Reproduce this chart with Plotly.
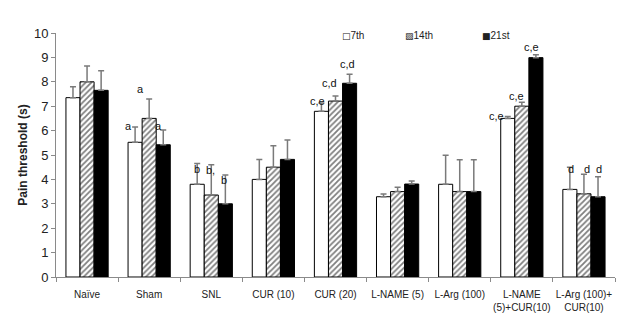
import plotly.graph_objects as go

categories = ["Naïve", "Sham", "SNL", "CUR (10)", "CUR (20)", "L-NAME (5)",
              "L-Arg (100)", "L-NAME<br>(5)+CUR(10)", "L-Arg (100)+<br>CUR(10)"]
series_names = ["7th", "14th", "21st"]
legend_glyphs = ["□", "▨", "■"]
day7 = [7.35, 5.52, 3.80, 4.00, 6.79, 3.29, 3.80, 6.50, 3.59]
day14 = [8.00, 6.50, 3.36, 4.50, 7.21, 3.50, 3.50, 7.00, 3.41]
day21 = [7.65, 5.42, 3.00, 4.82, 7.94, 3.81, 3.50, 8.99, 3.29]
err7 = [0.45, 0.63, 0.85, 0.82, 0.34, 0.11, 1.19, 0.08, 0.91]
err14 = [0.65, 0.80, 1.24, 0.88, 0.21, 0.18, 1.31, 0.16, 0.80]
err21 = [0.80, 0.60, 1.18, 0.79, 0.37, 0.12, 1.31, 0.12, 0.82]
# significance labels: (category index, series index, text)
sig_labels = [
    (1, 0, "a"), (1, 1, "a"), (1, 2, "a"),
    (2, 0, "b"), (2, 1, "b,"), (2, 2, "b"),
    (4, 0, "c,e"), (4, 1, "c,d"), (4, 2, "c,d"),
    (7, 0, "c,e"), (7, 1, "c,e"), (7, 2, "c,e"),
    (8, 0, "d"), (8, 1, "d"), (8, 2, "d"),
]
# label pixel nudges (style)
label_shift = [
    (-7, 1), (-9, 10), (-5, 4),
    (0, -5), (-1, -5), (-1, -5),
    (-4, 2), (-6, 13), (-2, 10),
    (-11, 0), (-5, 6), (-4, 8),
    (1, -2), (3, 5), (1, 8),
]
legend_x = [0.508, 0.621, 0.758]

FONT = "Liberation Sans, Arial, sans-serif"
values = [day7, day14, day21]
errs = [err7, err14, err21]
fills = ["white", "white", "black"]
patterns = [dict(shape=""), dict(shape="/", fgcolor="black", bgcolor="white", size=4, solidity=0.45),
            dict(shape="")]

fig = go.Figure()
for name, v, e, fc, pat in zip(series_names, values, errs, fills, patterns):
    fig.add_trace(go.Bar(
        name=name, x=categories, y=v,
        marker=dict(color=fc, line=dict(color="black", width=1), pattern=pat),
        error_y=dict(type="data", symmetric=False, array=e, arrayminus=[0] * len(e),
                     color="#7a7a7a", thickness=1.5, width=3),
        showlegend=False,
    ))

bargap = 0.32
barw = (1 - bargap) / 3
for (ci, si, txt), (dx, dy) in zip(sig_labels, label_shift):
    fig.add_annotation(
        x=ci + (si - 1) * barw, y=values[si][ci] + errs[si][ci],
        xref="x", yref="y", text=txt, showarrow=False,
        xanchor="center", yanchor="middle", xshift=dx, yshift=dy,
        font=dict(family=FONT, size=11, color="#111"),
    )

# legend drawn as text entries
for glyph, name, lx in zip(legend_glyphs, series_names, legend_x):
    fig.add_annotation(
        x=lx, y=0.988, xref="paper", yref="paper", showarrow=False,
        xanchor="left", yanchor="middle",
        text=f"<span style='font-family:DejaVu Sans;font-size:9px'>{glyph}</span>{name}",
        font=dict(family=FONT, size=10, color="#222"),
    )

fig.update_layout(
    width=626, height=321,
    margin=dict(l=56, r=11, t=33, b=44),
    paper_bgcolor="white", plot_bgcolor="white",
    barmode="group", bargap=bargap, bargroupgap=0,
    font=dict(family=FONT, color="#222"),
    showlegend=False,
)
fig.update_xaxes(
    showline=True, linecolor="#8a8a8a", linewidth=1,
    ticks="outside", tickson="boundaries", ticklen=4, tickcolor="#8a8a8a",
    tickfont=dict(size=10, family=FONT, color="#222"), tickangle=0,
    ticklabelstandoff=8,
    showgrid=False, zeroline=False, automargin=False,
)
fig.update_yaxes(
    range=[0, 10], dtick=1, showline=True, linecolor="#8a8a8a", linewidth=1,
    ticks="outside", ticklen=4, tickcolor="#8a8a8a",
    tickfont=dict(size=13, family=FONT, color="#222"),
    ticklabelstandoff=0,
    showgrid=False, zeroline=False, automargin=False,
    title=dict(text="<b>Pain threshold (s)</b>", font=dict(size=12, family=FONT, color="#222"),
               standoff=3),
)

fig.write_html("out.html")
